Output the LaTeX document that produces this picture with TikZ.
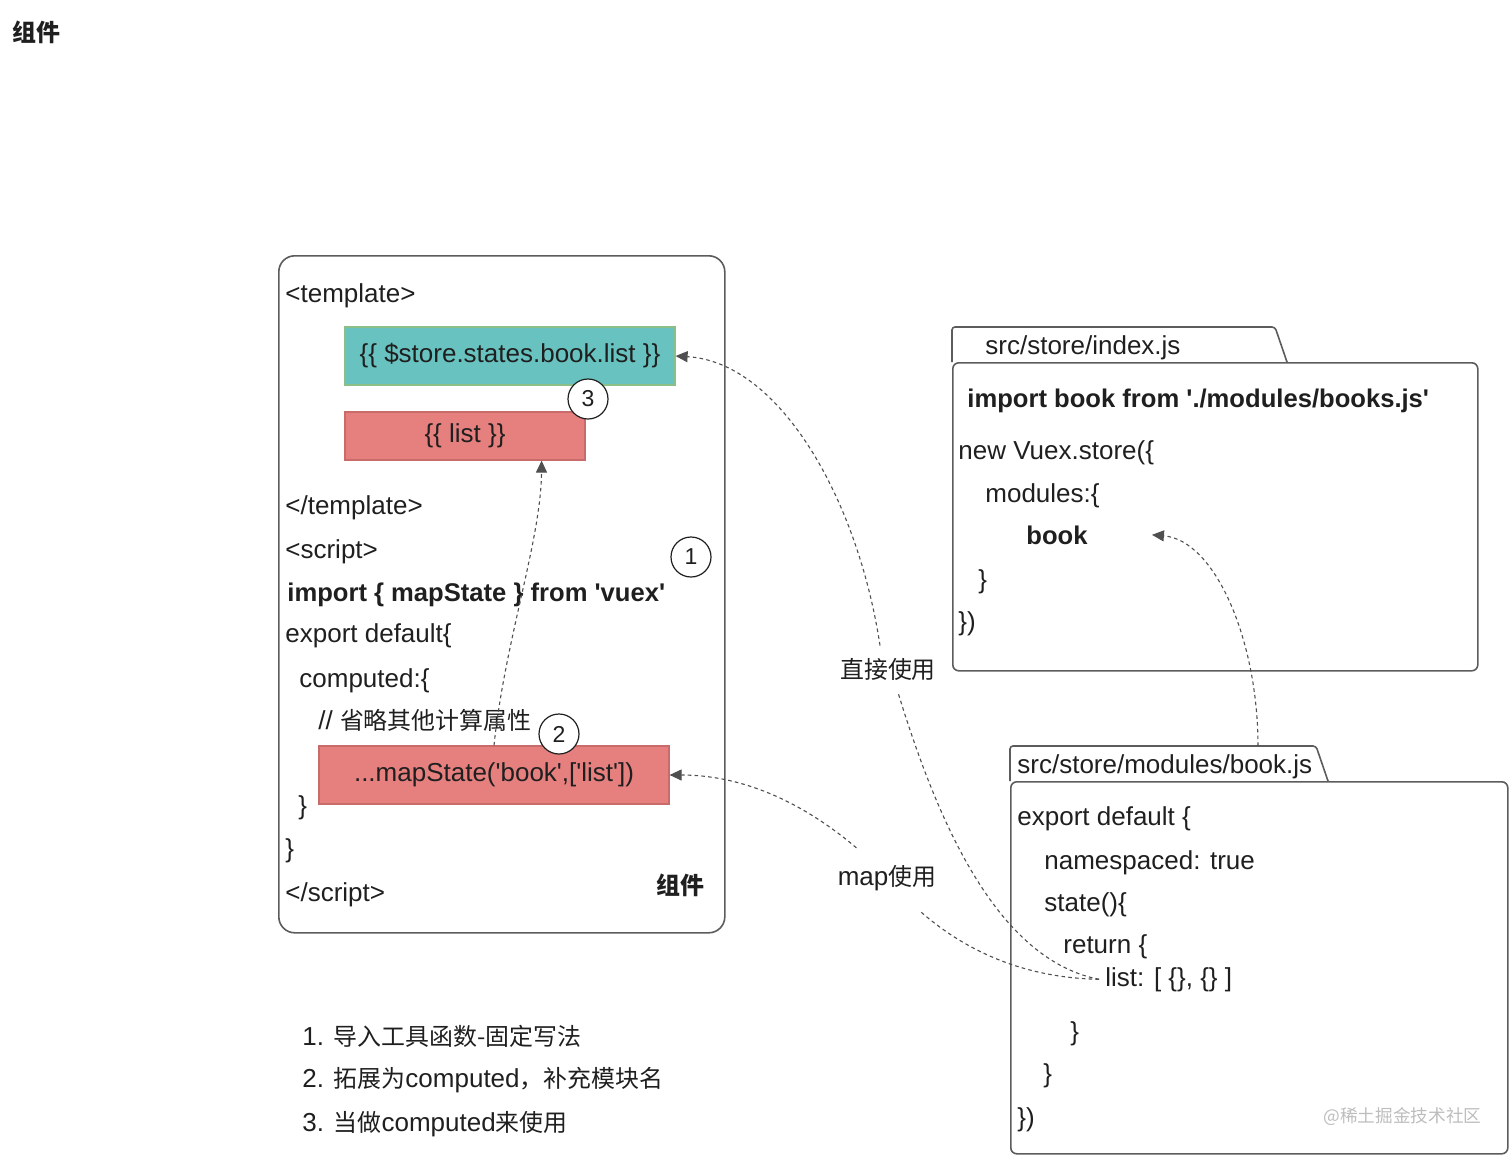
\documentclass[tikz,border=0pt]{standalone}
\usepackage{fontspec}
\newfontfamily\latinfont{Liberation Sans}
\newfontfamily\cjk[Scale=0.92]{Noto Sans CJK SC}
\usepackage{tikz}
\usetikzlibrary{positioning, calc, arrows.meta}
\definecolor{boxline}{HTML}{5C5C5C}
\definecolor{textdark}{HTML}{1F1F1F}
\definecolor{myteal}{HTML}{68C3C0}
\definecolor{tealline}{HTML}{8CBF88}
\definecolor{myred}{HTML}{E6807F}
\definecolor{redline}{HTML}{C96B6A}
\definecolor{arrowgray}{HTML}{4F4F4F}
\definecolor{markgray}{HTML}{BDBDBD}
\tikzset{
	codeline/.style={
			anchor=base west,
			inner sep=0pt,
			text=textdark,
			font=\latinfont\fontsize{13}{15}\selectfont
		},
	codebold/.style={
			codeline,
			font=\latinfont\fontsize{12.8}{15}\selectfont\bfseries
		},
	compbox/.style={
			draw=boxline,
			line width=0.8pt,
			rounded corners=8pt,
			anchor=north west
		},
	filebox/.style={
			draw=boxline,
			line width=0.8pt,
			rounded corners=3pt,
			anchor=north west
		},
	tabline/.style={
			draw=boxline,
			line width=0.8pt,
			rounded corners=1.5pt
		},
	tealbox/.style={
			draw=tealline,
			fill=myteal,
			line width=0.6pt,
			inner sep=0pt,
			text=textdark,
			font=\latinfont\fontsize{13}{15}\selectfont
		},
	redbox/.style={
			tealbox,
			draw=redline,
			fill=myred
		},
	numcircle/.style={
			circle,
			draw=textdark,
			fill=white,
			line width=0.6pt,
			minimum size=20pt,
			inner sep=0pt,
			text=textdark,
			font=\latinfont\fontsize{11.5}{13}\selectfont
		},
	uselabel/.style={
			inner sep=6pt,
			text=textdark,
			font=\latinfont\fontsize{13}{15}\selectfont
		},
	useline/.style={
			draw=arrowgray,
			line width=0.55pt,
			dash pattern=on 1.8pt off 1.6pt
		},
	usearrow/.style={
			useline,
			-{Triangle[length=6pt, width=5.5pt]}
		}
}

\begin{document}
\begin{tikzpicture}[x=0.5pt, y=-0.5pt]
	\useasboundingbox (0,0) rectangle (1512,1157);
	\node[font=\cjk\fontsize{13}{15}\selectfont\bfseries, text=textdark] at (36,32) (title) {组件};

	% component
	\node[compbox, minimum width=223pt, minimum height=338.5pt] at (278,255) (comp) {};
	\node[tealbox, minimum width=165pt, minimum height=29pt] at (510,356) (storelist) {\{\{ \$store.states.book.list \}\}};
	\node[redbox, minimum width=120pt, minimum height=24pt] at (465,436) (listbox) {\{\{ list \}\}};
	\node[redbox, minimum width=175pt, minimum height=29pt] at (494,775) (mapbox) {...mapState('book',['list'])};
	\node[codeline] at (285,302) (tplopen) {<template>};
	\node[codeline] at (285,514) (tplclose) {</template>};
	\node[codeline] at (285,558) (scropen) {<script>};
	\node[codebold] at (287,601) (imp) {import \{ mapState \} from 'vuex'};
	\node[codeline] at (285,642) (expdef) {export default\{};
	\node[codeline] at (299,687) (comput) {computed:\{};
	\node[codeline] at (318,729) (cmt) {// {\cjk 省略其他计算属性}};
	\node[codeline] at (298,814) (brin) {\}};
	\node[codeline] at (285,857) (brout) {\}};
	\node[codeline] at (285,901) (scrclose) {</script>};
	\node[font=\cjk\fontsize{13}{15}\selectfont\bfseries, text=textdark] at (680,885) (compname) {组件};
	\node[numcircle] at (588,399) (c3) {3};
	\node[numcircle] at (691,557) (c1) {1};
	\node[numcircle] at (559,734) (c2) {2};

	% src/store/index.js
	\node[filebox, minimum width=262.5pt, minimum height=154pt] at (952,362) (idxbody) {};
	\draw[tabline] (idxbody.north west) -- ++(0,-35) -- ++(323,0) -- ++(12,35);
	\node[codeline] at (985,354) (idxname) {src/store/index.js};
	\node[codebold] at (967,407) (idximp) {import book from './modules/books.js'};
	\node[codeline] at (958,459) (newstore) {new Vuex.store(\{};
	\node[codeline] at (985,502) (mods) {modules:\{};
	\node[codebold] at (1026,544) (book) {book};
	\node[codeline] at (978,588) (modsend) {\}};
	\node[codeline] at (958,630) (storeend) {\})};

	% src/store/modules/book.js
	\node[filebox, minimum width=248.5pt, minimum height=186pt] at (1010,781) (modbody) {};
	\draw[tabline] (modbody.north west) -- ++(0,-35) -- ++(306,0) -- ++(12,35);
	\coordinate (modtop) at (1258,746);
	\node[codeline] at (1017,773) (modname) {src/store/modules/book.js};
	\node[codeline] at (1017,825) (modexp) {export default \{};
	\node[codeline] at (1044,869) (nsp) {namespaced: true};
	\node[codeline] at (1044,911) (statefn) {state()\{};
	\node[codeline] at (1063,953) (ret) {return \{};
	\node[codeline] at (1105,986) (lst) {list: [ \{\}, \{\} ]};
	\node[codeline] at (1070,1040) (retend) {\}};
	\node[codeline] at (1043,1082) (stateend) {\}};
	\node[codeline] at (1017,1126) (modend) {\})};
	\node[anchor=east, inner sep=0pt, text=markgray, font=\cjk\fontsize{9.6}{11}\selectfont] at (1482,1117) (mark) {@稀土掘金技术社区};

	% notes
	\node[codeline] at (302,1045) (note1) {1. {\cjk 导入工具函数-固定写法}};
	\node[codeline] at (302,1087) (note2) {2. {\cjk 拓展为}computed{\cjk ，补充模块名}};
	\node[codeline] at (302,1131) (note3) {3. {\cjk 当做}computed{\cjk 来使用}};

	% usage
	\node[uselabel] at (888,669) (direct) {\cjk 直接使用};
	\node[uselabel] at (887,878) (maplbl) {map{\cjk 使用}};
	\draw[usearrow] ($(direct.north)+(-8,0)$) .. controls (858,500) and (780,362) .. (storelist.east);
	\draw[useline] ($(lst.west)+(-6,0)$) .. controls (1000,960) and (940,830) .. ($(direct.south)+(10,0)$);
	\draw[usearrow] ($(maplbl.north west)+(31,-5)$) .. controls (800,800) and (740,775) .. (mapbox.east);
	\draw[useline] ($(lst.west)+(-6,0)$) .. controls (1030,978) and (970,955) .. ($(maplbl.south)+(33,8)$);
	\draw[usearrow] (mapbox.north) .. controls (505,640) and (541,540) .. ($(listbox.south east)+(-44,0)$);
	\draw[usearrow] (modtop) .. controls (1258,640) and (1215,540) .. ($(book.east)+(64,0)$);
\end{tikzpicture}
\end{document}
